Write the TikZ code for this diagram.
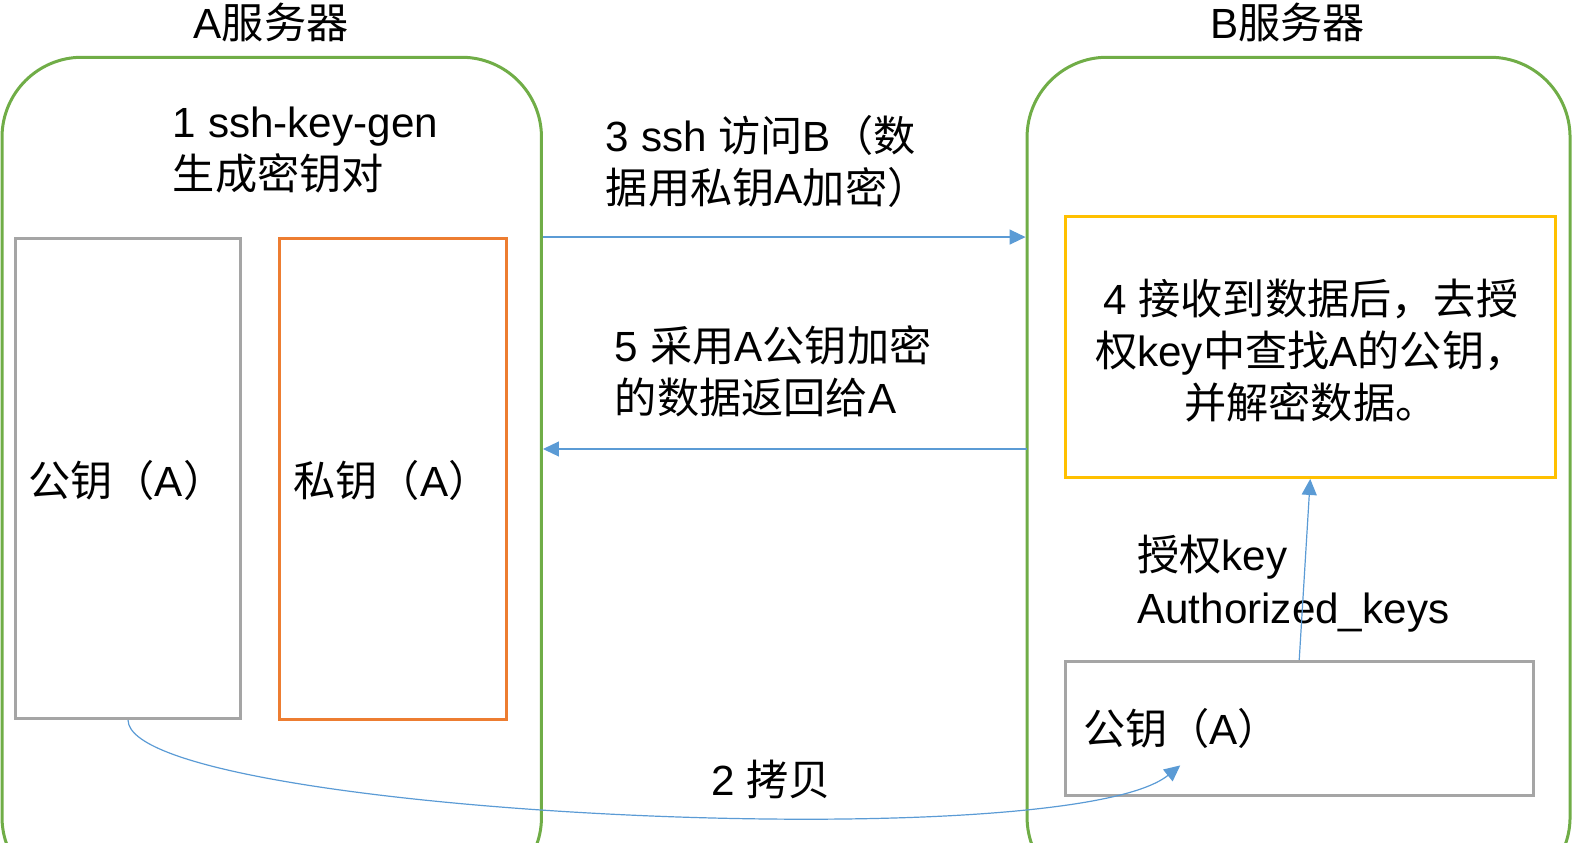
\documentclass[tikz,border=0pt]{standalone}
\usepackage{fontspec}
\setmainfont{Liberation Sans}
\newfontfamily\cjk{Noto Sans CJK SC}
\newcommand\zh[1]{{\cjk #1}}
\usetikzlibrary{arrows.meta}
\definecolor{grn}{HTML}{70AD47}
\definecolor{gry}{HTML}{A5A5A5}
\definecolor{org}{HTML}{ED7D31}
\definecolor{ylw}{HTML}{FFC000}
\definecolor{blu}{HTML}{5B9BD5}
\begin{document}
\begin{tikzpicture}[x=1.0045pt,y=-1.0045pt,
  every node/.style={font=\fontsize{42.2}{52.2}\selectfont, inner sep=0pt},
  server/.style={draw=grn, line width=3pt, rounded corners=80pt, anchor=north west},
  keybox/.style={draw=gry, line width=3pt, anchor=north west},
  privbox/.style={draw=org, line width=3pt, anchor=north west},
  infobox/.style={draw=ylw, line width=3pt, anchor=north west},
  lbl/.style={anchor=west, align=left},
  arr/.style={draw=blu, line width=1.2pt, -{Triangle[length=16pt,width=15pt]}}]
\useasboundingbox (0,0) rectangle (1568,839.2);
\clip (0,0) rectangle (1568,839.2);
% servers
\node[server, minimum width=539.5pt, minimum height=840pt] (A) at (0.5,55.5) {};
\node[server, minimum width=543pt, minimum height=840pt] (B) at (1021,55.5) {};
\node (tA) at (270,22) {A\zh{服务器}};
\node (tB) at (1282,22) {B\zh{服务器}};
% boxes in A
\node[keybox, minimum width=225pt, minimum height=480pt] (pubA) at (14,236) {};
\node[privbox, minimum width=227pt, minimum height=481pt] (privA) at (277,236) {};
\node[lbl] (pubAt) at (28,478) {\zh{公钥（}A\zh{）}};
\node[lbl] (privAt) at (292,478) {\zh{私钥（}A\zh{）}};
\node[lbl] (gen) at (172,149) {1 ssh-key-gen\\\zh{生成密钥对}};
% boxes in B
\node[infobox, minimum width=490pt, minimum height=261pt] (auth) at (1059,214) {};
\node[align=center] (autht) at (1305,349) {4 \zh{接收到数据后，去授}\\\zh{权}key\zh{中查找}A\zh{的公钥，}\\\zh{并解密数据。}};
\node[keybox, minimum width=468pt, minimum height=134pt] (pubB) at (1059,657) {};
\node[lbl] (pubBt) at (1078,725) {\zh{公钥（}A\zh{）}};
\node[lbl] (akt) at (1132,581) {\zh{授权}key\\Authorized\_keys};
% labels between
\node[lbl] (l3) at (603,161) {3 ssh \zh{访问}B\zh{（数}\\\zh{据用私钥}A\zh{加密）}};
\node[lbl] (l5) at (612,370) {5 \zh{采用}A\zh{公钥加密}\\\zh{的数据返回给}A};
\node[lbl] (l2) at (708,776) {2 \zh{拷贝}};
% connectors
\coordinate (c5) at (1022,447);
\draw[arr] (A.east |- pubA.north) -- (B.west |- pubA.north);
\draw[arr] (c5) -- (A.east |- c5);
\draw[arr] (pubB.north) -- (auth.south);
\coordinate (c2) at (1175,762);
\draw[arr] (pubA.south) .. controls (128,810) and (1060,855) .. (c2);
\end{tikzpicture}
\end{document}
